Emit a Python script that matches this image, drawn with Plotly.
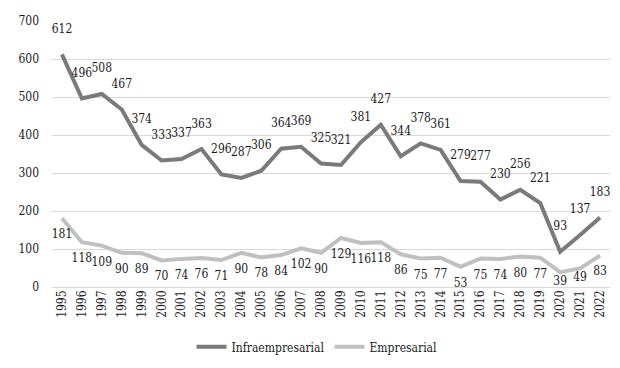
import plotly.graph_objects as go

years = [str(y) for y in range(1995, 2023)]
infraempresarial = [612, 496, 508, 467, 374, 333, 337, 363, 296, 287, 306, 364, 369, 325,
                    321, 381, 427, 344, 378, 361, 279, 277, 230, 256, 221, 93, 137, 183]
empresarial = [181, 118, 109, 90, 89, 70, 74, 76, 71, 90, 78, 84, 102, 90,
               129, 116, 118, 86, 75, 77, 53, 75, 74, 80, 77, 39, 49, 83]
y_ticks = [0, 100, 200, 300, 400, 500, 600, 700]

FONT = "DejaVu Serif Condensed"
TXT = "#1a1a1a"
C_INFRA = "#7a7a7a"
C_EMP = "#c0c0c0"

# labels of very low values sit closer to the line so they clear the year labels
emp_label_gap = [16 if v >= 50 else 4 for v in empresarial]

fig = go.Figure()
fig.add_trace(go.Scatter(x=years, y=infraempresarial, mode="lines", name="Infraempresarial",
                         line=dict(color=C_INFRA, width=4)))
fig.add_trace(go.Scatter(x=years, y=empresarial, mode="lines", name="Empresarial",
                         line=dict(color=C_EMP, width=4)))
fig.add_trace(go.Scatter(x=years, y=infraempresarial, mode="markers+text",
                         text=[str(v) for v in infraempresarial], textposition="top center",
                         marker=dict(size=28, opacity=0), showlegend=False, hoverinfo="skip",
                         cliponaxis=False,
                         textfont=dict(family=FONT, size=12, color=TXT)))
fig.add_trace(go.Scatter(x=years, y=empresarial, mode="markers+text",
                         text=[str(v) for v in empresarial], textposition="bottom center",
                         marker=dict(size=emp_label_gap, opacity=0), showlegend=False,
                         hoverinfo="skip", cliponaxis=False,
                         textfont=dict(family=FONT, size=12, color=TXT)))

fig.update_layout(
    template="none",
    width=620, height=368,
    margin=dict(l=44, r=18, t=13, b=89, autoexpand=False),
    paper_bgcolor="white", plot_bgcolor="white",
    font=dict(family=FONT, size=12, color=TXT),
    showlegend=True,
    legend=dict(orientation="h", x=0.475, xanchor="center", y=-0.225, yanchor="middle",
                font=dict(family=FONT, size=12, color=TXT)),
    xaxis=dict(type="category", range=[-0.5, 27.5], tickangle=-90, showgrid=False,
               showline=False, ticks="", automargin=False,
               tickfont=dict(family=FONT, size=12, color=TXT)),
    yaxis=dict(range=[0, 700], tickvals=y_ticks, showgrid=True, gridcolor="#d9d9d9",
               gridwidth=1, zeroline=True, zerolinecolor="#d9d9d9", showline=False,
               ticks="", ticklabelstandoff=12, automargin=False,
               tickfont=dict(family=FONT, size=12, color=TXT)),
)

fig.write_html("out.html")
